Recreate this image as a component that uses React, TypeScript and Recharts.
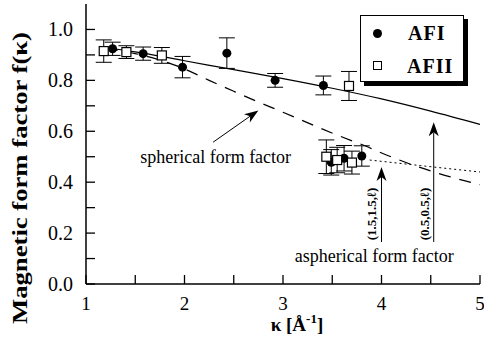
import React from "react";
import {
  ComposedChart, Line, Scatter, ErrorBar, XAxis, YAxis, ReferenceLine, ReferenceDot,
} from "recharts";

// measured points, kappa [1/Å] vs f(kappa), with half error bars
const afi = [
  { k: 1.27, f: 0.924, e: 0.026 },
  { k: 1.58, f: 0.905, e: 0.026 },
  { k: 1.98, f: 0.852, e: 0.042 },
  { k: 2.43, f: 0.907, e: 0.06 },
  { k: 2.92, f: 0.8, e: 0.027 },
  { k: 3.41, f: 0.78, e: 0.037 },
  { k: 3.49, f: 0.478, e: 0.05 },
  { k: 3.62, f: 0.494, e: 0.05 },
  { k: 3.8, f: 0.503, e: 0.04 },
];

const afii = [
  { k: 1.18, f: 0.915, e: 0.044 },
  { k: 1.41, f: 0.911, e: 0.025 },
  { k: 1.77, f: 0.898, e: 0.031 },
  { k: 3.67, f: 0.778, e: 0.057 },
  { k: 3.44, f: 0.5, e: 0.066 },
  { k: 3.55, f: 0.487, e: 0.05 },
  { k: 3.7, f: 0.477, e: 0.045 },
];

// fitted curves
const fitSolid = [
  { k: 1.15, f: 0.93 }, { k: 1.5, f: 0.912 }, { k: 2, f: 0.877 }, { k: 2.5, f: 0.842 },
  { k: 3, f: 0.807 }, { k: 3.5, f: 0.769 }, { k: 4, f: 0.727 }, { k: 4.5, f: 0.679 },
  { k: 5, f: 0.627 },
];

const spherical = [
  { k: 1.2, f: 0.925 }, { k: 1.5, f: 0.905 }, { k: 1.75, f: 0.88 }, { k: 2, f: 0.845 },
  { k: 2.25, f: 0.8 }, { k: 2.5, f: 0.757 }, { k: 2.75, f: 0.715 }, { k: 3, f: 0.675 },
  { k: 3.3, f: 0.625 }, { k: 3.55, f: 0.585 }, { k: 3.85, f: 0.54 }, { k: 4.05, f: 0.507 },
  { k: 4.3, f: 0.47 }, { k: 4.55, f: 0.438 }, { k: 4.85, f: 0.405 }, { k: 5, f: 0.39 },
];

const aspherical = [
  { k: 3.88, f: 0.487 }, { k: 4.4, f: 0.465 }, { k: 5, f: 0.44 },
];

const xTicks = [1, 1.5, 2, 2.5, 3, 3.5, 4, 4.5, 5];
const yTicks = [0, 0.1, 0.2, 0.3, 0.4, 0.5, 0.6, 0.7, 0.8, 0.9, 1.0];

const FONT = "'Liberation Serif', 'Times New Roman', serif";
const TICK_LEN = 9;

function BottomTick({ x, y, payload }: any) {
  const v = payload.value;
  const major = Number.isInteger(v);
  return (
    <g>
      <line x1={x} y1={y} x2={x} y2={y - TICK_LEN} stroke="#000" strokeWidth={1.3} />
      {major && (
        <text x={x} y={y + 26} textAnchor="middle" fontFamily={FONT} fontSize={19} fill="#000">
          {v}
        </text>
      )}
    </g>
  );
}

function TopTick({ x, y }: any) {
  return <line x1={x} y1={y} x2={x} y2={y + TICK_LEN} stroke="#000" strokeWidth={1.3} />;
}

function LeftTick({ x, y, payload }: any) {
  const v = payload.value;
  const major = Math.round(v * 10) % 2 === 0;
  return (
    <g>
      <line x1={x} y1={y} x2={x + TICK_LEN} y2={y} stroke="#000" strokeWidth={1.3} />
      {major && (
        <text x={x - 13} y={y + 7} textAnchor="end" fontFamily={FONT} fontSize={20} fill="#000">
          {v.toFixed(1)}
        </text>
      )}
    </g>
  );
}

function RightTick({ x, y }: any) {
  return <line x1={x} y1={y} x2={x - TICK_LEN} y2={y} stroke="#000" strokeWidth={1.3} />;
}

// arrow line with a filled head at (x2, y2)
function arrowShape(p: any) {
  const { x1, y1, x2, y2 } = p;
  const ang = Math.atan2(y2 - y1, x2 - x1);
  const L = 14, W = 5, N = 10;
  const bx = x2 - L * Math.cos(ang), by = y2 - L * Math.sin(ang);
  const nx = x2 - N * Math.cos(ang), ny = y2 - N * Math.sin(ang);
  const px = -Math.sin(ang) * W, py = Math.cos(ang) * W;
  return (
    <g>
      <line x1={x1} y1={y1} x2={nx} y2={ny} stroke="#000" strokeWidth={1} />
      <polygon points={`${x2},${y2} ${bx + px},${by + py} ${nx},${ny} ${bx - px},${by - py}`} fill="#000" />
    </g>
  );
}

function note(key: string, k: number, f: number, text: string, extra: any = {}) {
  const { rotate, size = 18, bold = false } = extra;
  return (
    <ReferenceDot
      key={key}
      x={k}
      y={f}
      r={0}
      ifOverflow="visible"
      shape={(p: any) => (
        <text
          x={p.cx}
          y={p.cy}
          fontFamily={FONT}
          fontSize={size}
          fontWeight={bold ? "bold" : "normal"}
          textAnchor={rotate ? "middle" : "start"}
          dominantBaseline={rotate ? "central" : "auto"}
          transform={rotate ? `rotate(-90 ${p.cx} ${p.cy})` : undefined}
          fill="#000"
        >
          {text}
        </text>
      )}
    />
  );
}

const dot = (p: any) => <circle cx={p.cx} cy={p.cy} r={4.5} fill="#000" />;
const square = (p: any) => (
  <rect x={p.cx - 4.5} y={p.cy - 4.5} width={9} height={9} fill="#fff" stroke="#000" strokeWidth={1.2} />
);

export default function App() {
  return (
    <div style={{ position: "absolute", left: 0, top: 0, width: 484, height: 350, background: "#fff" }}>
      <ComposedChart width={484} height={350} margin={{ top: 4, right: 4, bottom: 0, left: 0 }}>
        <XAxis
          dataKey="k"
          type="number"
          domain={[1, 5]}
          ticks={xTicks}
          allowDataOverflow
          height={66}
          tickSize={0}
          tickMargin={0}
          tick={<BottomTick />}
          axisLine={{ stroke: "#000", strokeWidth: 1.5 }}
          label={{
            content: ({ viewBox }: any) => (
              <text x={viewBox.x + 211} y={viewBox.y + 47} textAnchor="middle" fontFamily={FONT} fontWeight="bold" fontSize={19} fill="#000">
                κ [Å<tspan dy={-8} fontSize={13}>-1</tspan><tspan dy={8}>]</tspan>
              </text>
            ),
          }}
        />
        <XAxis
          xAxisId="top"
          orientation="top"
          dataKey="k"
          type="number"
          domain={[1, 5]}
          ticks={xTicks}
          height={0}
          tickSize={0}
          tickMargin={0}
          tick={<TopTick />}
          axisLine={{ stroke: "#000", strokeWidth: 1.5 }}
        />
        <YAxis
          type="number"
          domain={[0, 1.1]}
          ticks={yTicks}
          allowDataOverflow
          width={86}
          tickSize={0}
          tickMargin={0}
          tick={<LeftTick />}
          axisLine={{ stroke: "#000", strokeWidth: 1.5 }}
          label={{
            content: ({ viewBox }: any) => {
              const cx = viewBox.x + 20;
              const cy = 178;
              return (
                <text
                  x={cx}
                  y={cy}
                  transform={`rotate(-90 ${cx} ${cy})`}
                  textAnchor="middle"
                  dominantBaseline="central"
                  fontFamily={FONT}
                  fontWeight="bold"
                  fontSize={20}
                  textLength={292}
                  lengthAdjust="spacingAndGlyphs"
                  fill="#000"
                >
                  Magnetic form factor f(κ)
                </text>
              );
            },
          }}
        />
        <YAxis
          yAxisId="right"
          orientation="right"
          type="number"
          domain={[0, 1.1]}
          ticks={yTicks}
          width={0}
          tickSize={0}
          tickMargin={0}
          tick={<RightTick />}
          axisLine={{ stroke: "#000", strokeWidth: 1.5 }}
        />

        <Line data={fitSolid} dataKey="f" type="monotone" stroke="#000" strokeWidth={1.2} dot={false} isAnimationActive={false} />
        <Line data={spherical} dataKey="f" type="monotone" stroke="#000" strokeWidth={1.2} strokeDasharray="12 9" dot={false} isAnimationActive={false} />
        <Line data={aspherical} dataKey="f" type="monotone" stroke="#000" strokeWidth={1} strokeDasharray="2 3" dot={false} isAnimationActive={false} />

        <ReferenceLine segment={[{ x: 2.29, y: 0.557 }, { x: 2.75, y: 0.682 }]} shape={arrowShape} />
        <ReferenceLine segment={[{ x: 4.0, y: 0.165 }, { x: 4.0, y: 0.46 }]} shape={arrowShape} />
        <ReferenceLine segment={[{ x: 4.53, y: 0.165 }, { x: 4.53, y: 0.635 }]} shape={arrowShape} />

        {note("sph", 1.55, 0.475, "spherical form factor")}
        {note("asph", 3.12, 0.086, "aspherical form factor")}
        {note("l15", 3.9, 0.275, "(1.5,1.5,ℓ)", { rotate: true, size: 13, bold: true })}
        {note("l05", 4.44, 0.275, "(0.5,0.5,ℓ)", { rotate: true, size: 13, bold: true })}

        <Scatter data={afi} dataKey="f" shape={dot} isAnimationActive={false}>
          <ErrorBar dataKey="e" direction="y" width={8} stroke="#000" strokeWidth={1} isAnimationActive={false} />
        </Scatter>
        <Scatter data={afii} dataKey="f" shape={square} isAnimationActive={false}>
          <ErrorBar dataKey="e" direction="y" width={8} stroke="#000" strokeWidth={1} isAnimationActive={false} />
        </Scatter>
      </ComposedChart>

      <div
        style={{
          position: "absolute",
          left: 360,
          top: 15,
          width: 104,
          height: 67,
          border: "1.5px solid #000",
          boxShadow: "4px 4px 0 #000",
          background: "#fff",
          boxSizing: "border-box",
          fontFamily: FONT,
          fontWeight: "bold",
          fontSize: 20,
        }}
      >
        <div style={{ position: "absolute", left: 12, top: 13, width: 9, height: 9, borderRadius: "50%", background: "#000" }} />
        <div style={{ position: "absolute", left: 47, top: 4, lineHeight: "26px", letterSpacing: 1 }}>AFI</div>
        <div style={{ position: "absolute", left: 12, top: 45, width: 9, height: 9, border: "1.2px solid #000", boxSizing: "border-box" }} />
        <div style={{ position: "absolute", left: 46, top: 37, lineHeight: "26px", letterSpacing: 1 }}>AFII</div>
      </div>
    </div>
  );
}
